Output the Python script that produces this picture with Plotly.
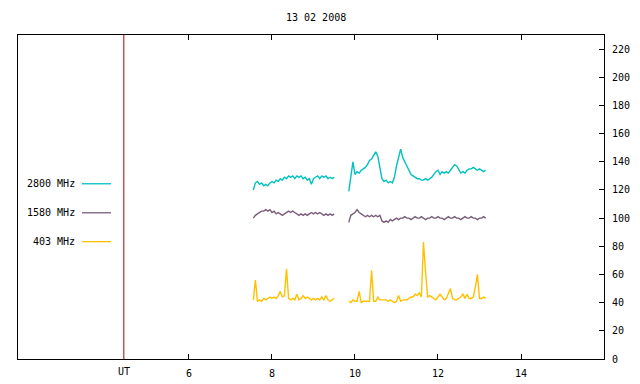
import plotly.graph_objects as go

# ---- data ----
title_text = "13 02 2008"
series_names = ["2800 MHz", "1580 MHz", "403 MHz"]
series_colors = ["#00C0C0", "#7A5C7A", "#FFC000"]

t_seg1 = [7.55, 7.60, 7.65, 7.70, 7.75, 7.80, 7.85, 7.90, 7.95, 8.00,
          8.05, 8.10, 8.15, 8.20, 8.25, 8.30, 8.35, 8.40, 8.45, 8.50,
          8.55, 8.60, 8.65, 8.70, 8.75, 8.80, 8.85, 8.90, 8.95, 9.00,
          9.05, 9.10, 9.15, 9.20, 9.25, 9.30, 9.35, 9.40, 9.45, 9.50]
t_seg2 = [9.85, 9.90, 9.95, 10.00, 10.05, 10.10, 10.15, 10.20, 10.25, 10.30,
          10.35, 10.40, 10.45, 10.50, 10.55, 10.60, 10.65, 10.70, 10.75, 10.80,
          10.85, 10.90, 10.95, 11.00, 11.05, 11.10, 11.15, 11.20, 11.25, 11.30,
          11.35, 11.40, 11.45, 11.50, 11.55, 11.60, 11.65, 11.70, 11.75, 11.80,
          11.85, 11.90, 11.95, 12.00, 12.05, 12.10, 12.15, 12.20, 12.25, 12.30,
          12.35, 12.40, 12.45, 12.50, 12.55, 12.60, 12.65, 12.70, 12.75, 12.80,
          12.85, 12.90, 12.95, 13.00, 13.05, 13.10, 13.15]

f2800_seg1 = [120, 125, 126, 124, 125, 123, 124, 123, 125, 126,
              125, 127, 126, 128, 127, 129, 128, 130, 129, 130,
              128, 130, 129, 130, 128, 129, 127, 128, 124, 128,
              129, 130, 128, 130, 129, 130, 128, 129, 128, 129]
f2800_seg2 = [119, 130, 140, 131, 133, 132, 134, 135, 136, 138,
              141, 142, 145, 147, 144, 137, 128, 126, 127, 125,
              126, 125, 129, 137, 144, 149, 143, 140, 137, 134,
              131, 130, 129, 128, 128, 127, 127, 128, 127, 128,
              129, 131, 133, 134, 131, 133, 132, 133, 132, 134,
              136, 138, 137, 134, 132, 133, 132, 134, 135, 135,
              136, 135, 134, 135, 134, 133, 134]

f1580_seg1 = [100, 102, 103, 104, 105, 105, 106, 105, 106, 104,
              105, 103, 104, 103, 102, 103, 104, 105, 104, 105,
              104, 103, 102, 103, 102, 103, 102, 103, 104, 103,
              104, 103, 104, 103, 102, 103, 102, 103, 102, 103]
f1580_seg2 = [97, 102, 103, 104, 106, 104, 103, 102, 101, 102,
              101, 102, 101, 102, 101, 102, 98, 97, 98, 97,
              99, 98, 99, 100, 99, 100, 100, 101, 100, 100,
              99, 100, 101, 100, 100, 101, 100, 99, 100, 100,
              101, 100, 100, 101, 100, 100, 99, 100, 101, 100,
              100, 101, 100, 100, 99, 100, 101, 100, 100, 101,
              100, 100, 99, 100, 100, 101, 100]

f403_seg1 = [42, 56, 41, 42, 41, 43, 42, 43, 44, 43,
             44, 43, 45, 48, 44, 45, 64, 43, 42, 43,
             42, 46, 42, 43, 45, 43, 44, 43, 42, 43,
             42, 43, 42, 44, 42, 45, 42, 41, 42, 43]
f403_seg2 = [41, 40, 42, 41, 41, 48, 40, 41, 41, 41,
             41, 63, 41, 41, 44, 42, 42, 42, 42, 41,
             42, 41, 40, 41, 45, 41, 42, 42, 42, 43,
             44, 44, 46, 45, 47, 44, 83, 62, 44, 45,
             44, 43, 42, 44, 46, 44, 42, 43, 46, 50,
             43, 42, 42, 43, 44, 46, 43, 46, 43, 43,
             44, 51, 60, 43, 43, 44, 43]

x_ticks = [6, 8, 10, 12, 14]
y_ticks = [0, 20, 40, 60, 80, 100, 120, 140, 160, 180, 200, 220]
x_range = [1.88, 16]
y_range = [0, 230]
ut_time = 4.43
legend_levels = [124.4, 103.8, 83.3]

# ---- figure ----
# the page body has an 8px margin, so the figure is made smaller and all
# window-pixel positions below are shifted by that offset
OFF = 8
WIN_W, WIN_H = 640, 384
W, H = WIN_W - OFF, WIN_H - OFF
# desired plot frame in window pixels
FL, FR, FT, FB = 18, 604, 35, 359
ML, MT = FL - OFF, FT - OFF
MR, MB = (OFF + W) - FR, (OFF + H) - FB
PW = FR - FL
PH = FB - FT
FONT = "DejaVu Sans Mono"

def px_x(p):
    return (p - FL) / PW

def px_y(p):
    return 1 - (p - FT) / PH

fig = go.Figure()
segs = [
    (f2800_seg1, f2800_seg2),
    (f1580_seg1, f1580_seg2),
    (f403_seg1, f403_seg2),
]
for name, color, (a, b) in zip(series_names, series_colors, segs):
    fig.add_trace(go.Scatter(
        x=t_seg1 + [None] + t_seg2,
        y=a + [None] + b,
        mode="lines", name=name,
        line=dict(color=color, width=1.4),
        connectgaps=False, showlegend=False,
    ))

# UT marker line
fig.add_shape(type="line", xref="x", yref="paper", x0=ut_time, x1=ut_time,
              y0=0, y1=1, layer="above", line=dict(color="#B00000", width=1))
fig.add_annotation(x=ut_time, xref="x", y=px_y(371), yref="paper", text="UT",
                   showarrow=False, font=dict(family=FONT, size=10, color="black"),
                   xanchor="center", yanchor="middle")

# custom key
for name, color, lvl in zip(series_names, series_colors, legend_levels):
    fig.add_annotation(x=px_x(77), xref="paper", y=lvl, yref="y", text=name,
                       showarrow=False, xanchor="right", yanchor="middle",
                       font=dict(family=FONT, size=10, color="black"))
    fig.add_shape(type="line", xref="paper", yref="y", x0=px_x(82), x1=px_x(111),
                  y0=lvl, y1=lvl, line=dict(color=color, width=1.3))

fig.add_annotation(x=px_x(316), xref="paper", y=px_y(18), yref="paper",
                   text=title_text, showarrow=False, xanchor="center", yanchor="middle",
                   font=dict(family=FONT, size=10, color="black"))

fig.update_layout(
    width=W, height=H,
    margin=dict(l=ML, r=MR, t=MT, b=MB, pad=0, autoexpand=False),
    paper_bgcolor="white", plot_bgcolor="white",
    font=dict(family=FONT, size=10, color="black"),
    xaxis=dict(range=x_range, tickvals=x_ticks, ticktext=[str(v) for v in x_ticks],
               ticks="inside", ticklen=5, tickcolor="black", mirror="allticks",
               showline=True, linecolor="black", linewidth=1, automargin=False,
               showgrid=False, zeroline=False, ticklabelstandoff=5),
    yaxis=dict(range=y_range, tickvals=y_ticks, side="right",
               ticks="inside", ticklen=5, tickcolor="black", mirror=True,
               showline=True, linecolor="black", linewidth=1, automargin=False,
               showgrid=False, zeroline=False, ticklabelstandoff=5),
)

fig.write_html("out.html")
